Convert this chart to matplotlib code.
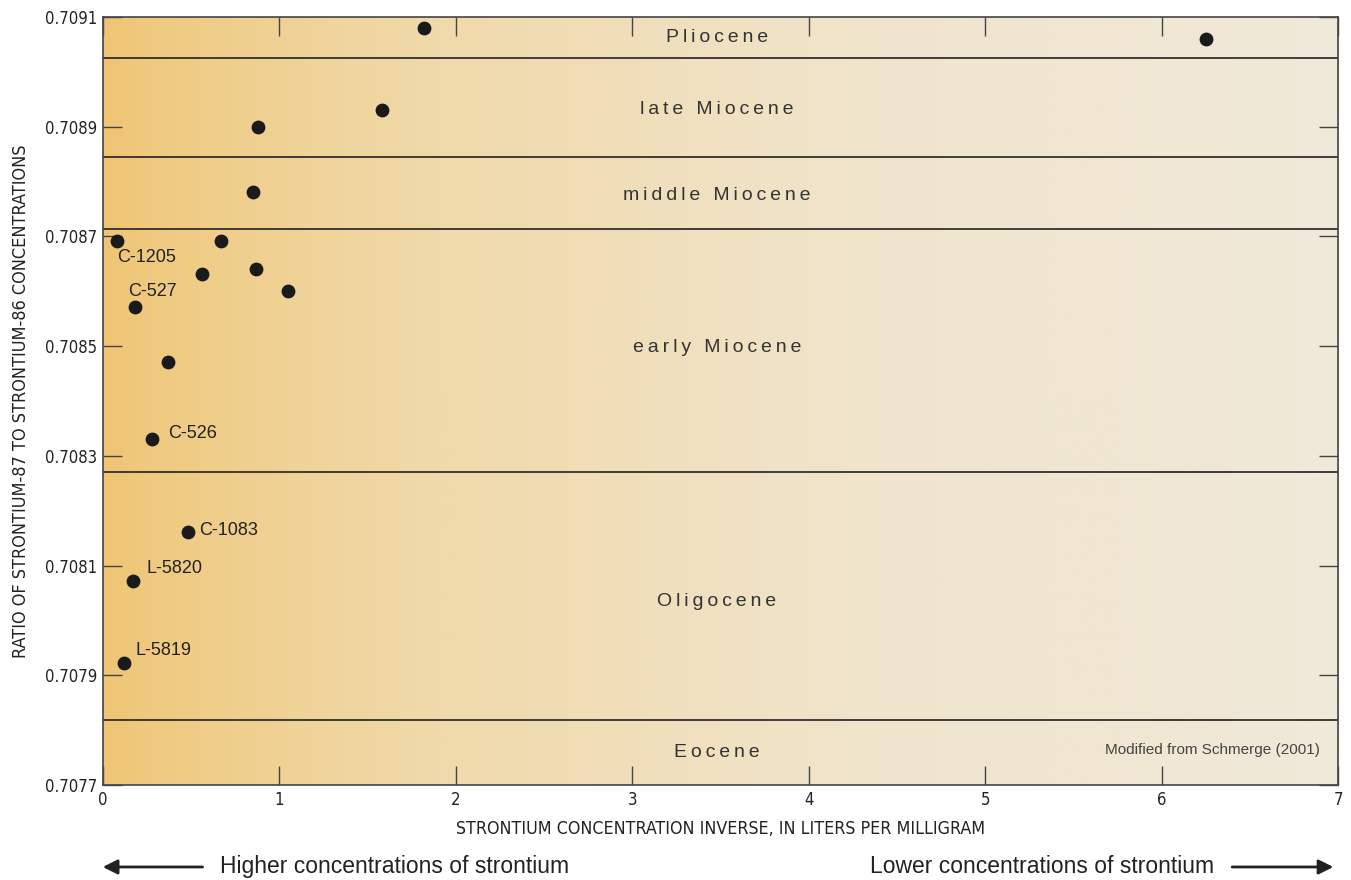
"""Razon Sr-87/Sr-86 contra inverso de la concentracion de estroncio."""

import matplotlib

matplotlib.use("Agg")
import matplotlib.pyplot as plt
import numpy as np
from matplotlib.colors import LinearSegmentedColormap
from matplotlib.patches import FancyArrowPatch


# puntos (inverso de concentracion, razon isotopica)
inverso = [1.82, 6.25, 1.58, 0.88, 0.85, 0.08, 0.67, 0.56, 0.87, 1.05,
           0.18, 0.37, 0.28, 0.48, 0.17, 0.12]
razon = [0.70908, 0.70906, 0.70893, 0.70890, 0.708781, 0.708692, 0.708692,
         0.708632, 0.708641, 0.70860, 0.708571, 0.708471, 0.708331,
         0.708161, 0.708072, 0.707922]

# muestras con nombre
muestras = ["C-1205", "C-527", "C-526", "C-1083", "L-5820", "L-5819"]
muestras_x = [0.08, 0.18, 0.28, 0.48, 0.17, 0.12]
muestras_y = [0.708692, 0.708571, 0.708331, 0.708161, 0.708072, 0.707922]
desplazamientos = [(0, -12), (-5, 11), (11, 4), (8, 1), (10, 9), (8, 9)]

# limites entre epocas y nombres
limites = [0.709025, 0.708845, 0.7087135, 0.708271, 0.707818]
epocas = ["Pliocene", "late Miocene", "middle Miocene", "early Miocene",
          "Oligocene", "Eocene"]
epocas_y = [0.709062, 0.708932, 0.708774, 0.708498, 0.708035, 0.70776]

y_ticks = [0.7077, 0.7079, 0.7081, 0.7083, 0.7085, 0.7087, 0.7089, 0.7091]
x_ticks = [0, 1, 2, 3, 4, 5, 6, 7]

SANS = ["Liberation Sans", "DejaVu Sans"]
ANGOSTA = dict(family="DejaVu Sans", stretch="condensed")


def espaciar(texto):
    return "\u2009".join(texto)


fig = plt.figure(figsize=(13.51, 8.80), dpi=100)
ax = fig.add_axes([0.0762, 0.108, 0.9142, 0.8727])
ax.set_xlim(0, 7)
ax.set_ylim(0.7077, 0.7091)

# fondo degradado
fondo = LinearSegmentedColormap.from_list(
    "fondo", ["#efc574", "#f0d9a8", "#f0e4cb", "#f0e9d9"])
grad = np.linspace(0, 1, 512) ** 0.8
ax.imshow(grad[np.newaxis, :], aspect="auto", cmap=fondo,
          extent=(0, 7, 0.7077, 0.7091), zorder=0)

for lim in limites:
    ax.axhline(lim, color="#222222", lw=1.2, zorder=1)

for nombre, y in zip(epocas, epocas_y):
    ax.text(3.48, y, espaciar(nombre), ha="center", va="center",
            fontsize=14, color="#333333", family=SANS, zorder=2)

ax.scatter(inverso, razon, s=80, color="#1a1a1a", zorder=3)

for nombre, x, y, d in zip(muestras, muestras_x, muestras_y, desplazamientos):
    ax.annotate(nombre, (x, y), xytext=d, textcoords="offset points",
                ha="left", va="center", fontsize=13, color="#222222",
                family=SANS)

ax.text(0.985, 0.045, "Modified from Schmerge (2001)", transform=ax.transAxes,
        ha="right", va="center", fontsize=11, color="#444444", family=SANS)

ax.set_xticks(x_ticks)
ax.set_yticks(y_ticks)
ax.set_yticklabels([f"{v:.4f}" for v in y_ticks])
ax.tick_params(direction="in", length=13.5, width=1, color="#444444",
               top=True, right=True, labelsize=12, pad=4)
for lab in ax.get_xticklabels() + ax.get_yticklabels():
    lab.set_fontproperties(matplotlib.font_manager.FontProperties(
        size=12, **ANGOSTA))
    lab.set_color("#222222")
for lado in ax.spines.values():
    lado.set_color("#444444")
    lado.set_linewidth(1.2)

ax.set_xlabel("STRONTIUM CONCENTRATION INVERSE, IN LITERS PER MILLIGRAM",
              fontsize=12.8, color="#222222", **ANGOSTA)
ax.xaxis.set_label_coords(0.5, -0.046)
ax.set_ylabel("RATIO OF STRONTIUM-87 TO STRONTIUM-86 CONCENTRATIONS",
              fontsize=13, color="#222222", **ANGOSTA)
ax.yaxis.set_label_coords(-0.059, 0.5)

# flechas de abajo
flecha = dict(arrowstyle="-|>", color="#222222", lw=2, mutation_scale=22)
fig.text(0.163, 0.0148, "Higher concentrations of strontium", ha="left",
         va="center", fontsize=16.5, color="#222222", family=SANS)
fig.text(0.899, 0.0148, "Lower concentrations of strontium", ha="right",
         va="center", fontsize=16.5, color="#222222", family=SANS)
fig.add_artist(FancyArrowPatch(
    (0.152, 0.0148), (0.074, 0.0148), transform=fig.transFigure, **flecha))
fig.add_artist(FancyArrowPatch(
    (0.910, 0.0148), (0.989, 0.0148), transform=fig.transFigure, **flecha))

fig.savefig("out.png", dpi=100)
